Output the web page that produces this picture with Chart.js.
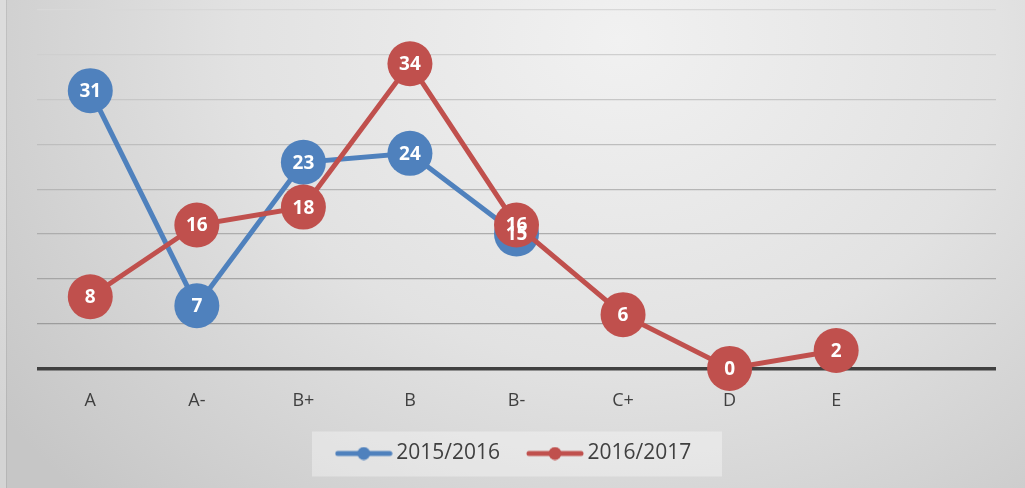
<!DOCTYPE html>
<html>
<head>
<meta charset="utf-8">
<script src="https://cdn.jsdelivr.net/npm/chart.js@4/dist/chart.umd.min.js"></script>
<style>
html,body{margin:0;padding:0;background:#d8d8d8;}
#wrap{width:1025px;height:488px;position:relative;}
</style>
</head>
<body>
<div id="wrap"><canvas id="c" width="1025" height="488"></canvas></div>
<script>
const categories = ['A', 'A-', 'B+', 'B', 'B-', 'C+', 'D', 'E', ''];
const series2015 = [31, 7, 23, 24, 15, null, null, null, null];
const series2016 = [8, 16, 18, 34, 16, 6, 0, 2, null];
const seriesNames = ['2015/2016', '2016/2017'];
const yTicks = [0, 5, 10, 15, 20, 25, 30, 35, 40];

const BLUE = '#4F81BD';
const RED = '#C0504D';

function legendIcon(color) {
  const cv = document.createElement('canvas');
  cv.width = 58; cv.height = 14;
  const c = cv.getContext('2d');
  c.strokeStyle = color; c.lineWidth = 5; c.lineCap = 'round';
  c.beginPath(); c.moveTo(3, 7); c.lineTo(55, 7); c.stroke();
  c.fillStyle = color;
  c.beginPath(); c.arc(29, 7, 6.5, 0, Math.PI * 2); c.fill();
  return cv;
}
const icons = [legendIcon(BLUE), legendIcon(RED)];

const bgPlugin = {
  id: 'bg',
  beforeDraw(chart) {
    const ctx = chart.ctx;
    const W = chart.width, H = chart.height;
    ctx.save();
    ctx.fillStyle = '#d6d6d6';
    ctx.fillRect(0, 0, W, H);
    ctx.save();
    ctx.translate(620, 40);
    ctx.scale(1, 0.85);
    const g = ctx.createRadialGradient(0, 0, 0, 0, 0, 760);
    g.addColorStop(0, '#f1f1f1');
    g.addColorStop(0.5, '#e2e2e2');
    g.addColorStop(1, '#c6c6c6');
    ctx.fillStyle = g;
    ctx.fillRect(-700, -100, 1500, 800);
    ctx.restore();
    ctx.fillStyle = 'rgba(255,255,255,0.25)';
    ctx.fillRect(0, 0, 6, H);
    ctx.fillStyle = 'rgba(0,0,0,0.08)';
    ctx.fillRect(6, 0, 1, H);
    // legend background
    const lg = chart.legend;
    if (lg && lg.legendHitBoxes && lg.legendHitBoxes.length) {
      let y0 = Infinity, y1 = -Infinity;
      lg.legendHitBoxes.forEach(b => {
        y0 = Math.min(y0, b.top); y1 = Math.max(y1, b.top + b.height);
      });
      const cy = (y0 + y1) / 2;
      ctx.fillStyle = 'rgba(255,255,255,0.35)';
      ctx.fillRect(312, cy - 22, 410, 45);
    }
    ctx.restore();
  }
};

const labelPlugin = {
  id: 'vals',
  afterDatasetsDraw(chart) {
    const ctx = chart.ctx;
    ctx.save();
    ctx.fillStyle = '#ffffff';
    ctx.font = 'bold 19px "Open Sans"';
    ctx.textAlign = 'center';
    ctx.textBaseline = 'middle';
    chart.data.datasets.forEach((ds, i) => {
      const meta = chart.getDatasetMeta(i);
      meta.data.forEach((pt, j) => {
        const v = ds.data[j];
        if (v === null || v === undefined) return;
        ctx.fillText(String(v), pt.x, pt.y + 1);
      });
    });
    ctx.restore();
  }
};

function gridColor(v) {
  if (v === 0) return '#404040';
  const t = (v - 5) / 35; // 0 at bottom line, 1 at top
  const l = Math.round(0x9c + (0xd8 - 0x9c) * t);
  const h = l.toString(16);
  return '#' + h + h + h;
}

new Chart(document.getElementById('c'), {
  type: 'line',
  data: {
    labels: categories,
    datasets: [
      {
        label: seriesNames[0], data: series2015, borderColor: BLUE, backgroundColor: BLUE,
        borderWidth: 5, pointRadius: 22.5, pointHoverRadius: 22.5, pointBorderWidth: 0,
        pointBackgroundColor: BLUE, pointStyle: 'circle', order: 1, clip: false, spanGaps: false
      },
      {
        label: seriesNames[1], data: series2016, borderColor: RED, backgroundColor: RED,
        borderWidth: 5, pointRadius: 22.5, pointHoverRadius: 22.5, pointBorderWidth: 0,
        pointBackgroundColor: RED, pointStyle: 'circle', order: 0, clip: false, spanGaps: false
      }
    ]
  },
  options: {
    responsive: false,
    animation: false,
    events: [],
    layout: { autoPadding: false, padding: { left: 37, right: 29, top: 10, bottom: 14 } },
    scales: {
      x: {
        offset: true,
        grid: { display: false, drawTicks: false },
        border: { display: false },
        ticks: { color: '#404040', font: { family: 'Open Sans', size: 18 }, padding: 22, maxRotation: 0 },
        afterFit(axis) { axis.height -= 24; }
      },
      y: {
        min: 0, max: 40,
        afterBuildTicks(axis) { axis.ticks = yTicks.map(v => ({ value: v })); },
        ticks: { display: false },
        border: { display: false },
        grid: {
          drawTicks: false,
          color: (c) => gridColor(c.tick.value),
          lineWidth: (c) => c.tick.value === 0 ? 3.5 : 1.2
        }
      }
    },
    plugins: {
      tooltip: { enabled: false },
      legend: {
        position: 'bottom',
        labels: {
          usePointStyle: true,
          pointStyleWidth: 44,
          padding: 33,
          color: '#404040',
          font: { family: 'Open Sans', size: 21 },
          sort: (a, b) => a.datasetIndex - b.datasetIndex,
          generateLabels(chart) {
            return chart.data.datasets.map((ds, i) => ({
              text: ds.label, fillStyle: ds.borderColor, strokeStyle: ds.borderColor,
              lineWidth: 0, pointStyle: icons[i], datasetIndex: i, fontColor: '#404040', hidden: false
            }));
          }
        }
      }
    }
  },
  plugins: [bgPlugin, labelPlugin]
});
</script>
</body>
</html>
